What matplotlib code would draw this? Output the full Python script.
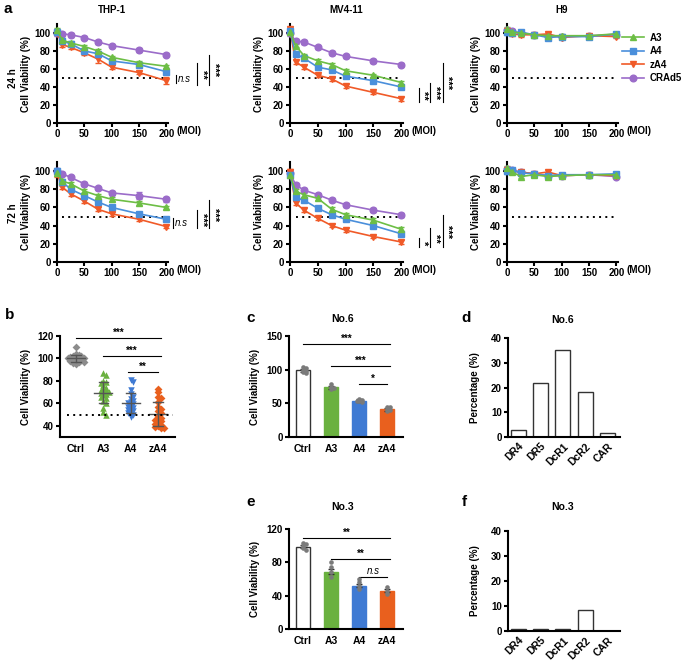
import matplotlib
matplotlib.use('Agg')
import matplotlib.pyplot as plt
import matplotlib.transforms as mtrans
from matplotlib.lines import Line2D
import numpy as np

plt.rcParams['font.family'] = ['Liberation Sans', 'DejaVu Sans']
plt.rcParams['font.weight'] = 'bold'
plt.rcParams['axes.labelweight'] = 'bold'
plt.rcParams['axes.linewidth'] = 1.5

# ---------------- data ----------------
moi = [0, 10, 25, 50, 75, 100, 150, 200]
series_names = ['A3', 'A4', 'zA4', 'CRAd5']

thp1_24_a3 = [103, 92, 89, 85, 80, 73, 67, 63]
thp1_24_a4 = [101, 91, 88, 80, 77, 69, 65, 57]
thp1_24_za4 = [100, 87, 84, 78, 71, 62, 56, 47]
thp1_24_crad5 = [100, 99, 98, 95, 90, 86, 81, 76]

mv4_24_a3 = [101, 86, 75, 69, 65, 58, 53, 45]
mv4_24_a4 = [102, 77, 72, 62, 59, 52, 47, 40]
mv4_24_za4 = [104, 68, 62, 53, 49, 41, 34, 27]
mv4_24_crad5 = [100, 91, 90, 84, 78, 74, 69, 65]

h9_24_a3 = [104, 101, 100, 98, 97, 97, 97, 99]
h9_24_a4 = [101, 100, 101, 98, 95, 96, 96, 99]
h9_24_za4 = [102, 99, 98, 98, 99, 95, 97, 96]
h9_24_crad5 = [103, 102, 100, 98, 97, 96, 97, 98]

thp1_72_a3 = [98, 89, 86, 78, 73, 69, 65, 60]
thp1_72_a4 = [100, 88, 80, 73, 66, 60, 53, 47]
thp1_72_za4 = [97, 82, 75, 67, 58, 53, 47, 39]
thp1_72_crad5 = [100, 97, 93, 86, 81, 76, 73, 69]

mv4_72_a3 = [96, 78, 74, 70, 58, 52, 46, 36]
mv4_72_a4 = [96, 71, 68, 59, 52, 47, 40, 31]
mv4_72_za4 = [99, 65, 57, 48, 40, 35, 28, 22]
mv4_72_crad5 = [98, 85, 79, 74, 68, 63, 57, 52]

h9_72_a3 = [103, 99, 94, 96, 94, 95, 96, 96]
h9_72_a4 = [100, 101, 98, 97, 95, 96, 96, 97]
h9_72_za4 = [101, 100, 99, 97, 99, 95, 96, 95]
h9_72_crad5 = [102, 101, 99, 97, 95, 95, 96, 94]

err_small = [3, 2, 2, 2, 2, 2, 2, 2]
thp1_24_za4_err = [2, 2, 2, 2, 4, 2, 2, 4]
thp1_72_crad5_err = [2, 2, 2, 2, 2, 2, 4, 3]

groups = ['Ctrl', 'A3', 'A4', 'zA4']
b_ctrl = [110, 104, 103, 102, 101, 101, 100, 100, 100, 99, 99, 98, 98, 97, 97, 96, 95, 102, 100, 99]
b_a3 = [87, 85, 80, 79, 78, 76, 74, 73, 72, 71, 70, 70, 69, 68, 67, 66, 65, 62, 60, 56, 52, 50]
b_a4 = [81, 79, 72, 68, 66, 64, 62, 61, 60, 59, 58, 57, 56, 55, 54, 53, 52, 51, 50, 48]
b_za4 = [73, 70, 66, 65, 61, 57, 55, 53, 51, 49, 47, 46, 45, 44, 43, 42, 41, 40, 39, 38, 38]

c_means = [99, 74, 54, 41]
c_sem = [2, 2, 2, 2]
c_points = [[95, 97, 100, 102, 104, 98], [72, 75, 78, 73], [52, 54, 57, 55, 53], [38, 42, 45, 44, 40]]

e_means = [99, 69, 52, 46]
e_sem = [2, 3, 2, 2]
e_points = [[95, 97, 100, 102, 103], [63, 68, 74, 80], [48, 52, 56, 60], [42, 46, 50]]

receptors = ['DR4', 'DR5', 'DcR1', 'DcR2', 'CAR']
d_pct = [3, 22, 35, 18, 1.5]
f_pct = [0.8, 1.0, 0.7, 8.3, 0.2]

# ---------------- style ----------------
C_GREEN = '#6DBE45'
C_BLUE = '#4A8FDB'
C_RED = '#F05A28'
C_PURPLE = '#9B6CC9'
B_GREEN = '#6AB13F'
B_BLUE = '#3F7AD3'
B_ORANGE = '#E9601E'
GREY = '#8C8C8C'

W, H = 698, 665
fig = plt.figure(figsize=(W / 100, H / 100), dpi=100)


def add_ax(x0, x1, ytop, ybot):
    return fig.add_axes([x0 / W, 1 - ybot / H, (x1 - x0) / W, (ybot - ytop) / H])


def style_ax(ax, fs=7):
    for s in ['top', 'right']:
        ax.spines[s].set_visible(False)
    ax.tick_params(direction='out', length=3, width=1.5, labelsize=fs, pad=1.5)
    for lab in ax.get_xticklabels() + ax.get_yticklabels():
        lab.set_fontweight('bold')


def curve_panel(ax, a3, a4, za4, crad5, za4_err=None, crad5_err=None):
    specs = [(crad5, C_PURPLE, 'o', 4.8, crad5_err),
             (za4, C_RED, 'v', 4.8, za4_err),
             (a4, C_BLUE, 's', 4.4, None),
             (a3, C_GREEN, '^', 4.8, None)]
    for vals, col, mk, ms, err in specs:
        e = err if err is not None else err_small
        ax.errorbar(moi, vals, yerr=e, color=col, marker=mk, ms=ms, lw=1.2,
                    elinewidth=1.0, capsize=2, clip_on=False, zorder=3)
    ax.hlines(50, 10, 195, colors='black', linestyles=(0, (1, 2.2)), lw=1.4)
    ax.set_xlim(0, 203)
    ax.set_ylim(0, 110)
    ax.set_xticks([0, 50, 100, 150, 200])
    ax.set_yticks([0, 20, 40, 60, 80, 100])
    ax.set_ylabel('Cell Viability (%)', fontsize=7)
    ax.yaxis.set_label_coords(-0.23, 0.5)
    style_ax(ax)
    ax.text(1.075, -0.035, '(MOI)', transform=ax.transAxes, ha='left', va='top',
            fontsize=7, fontweight='bold')


def vbracket(ax, xf, y1, y2, label, tx, italic=False):
    tr = mtrans.blended_transform_factory(ax.transAxes, ax.transData)
    ax.plot([xf, xf], [y1, y2], color='black', lw=0.8, transform=tr, clip_on=False)
    if italic:
        ax.text(tx, (y1 + y2) / 2, label, transform=tr, ha='left', va='center',
                fontsize=7, style='italic', fontweight='normal')
    else:
        ax.text(tx, (y1 + y2) / 2, label, transform=tr, ha='center', va='center',
                rotation=270, fontsize=8, fontweight='bold', linespacing=1.0)


# row 1 (24 h)
ax1 = add_ax(57, 168, 24, 123)
curve_panel(ax1, thp1_24_a3, thp1_24_a4, thp1_24_za4, thp1_24_crad5, za4_err=thp1_24_za4_err)
vbracket(ax1, 1.069, 44, 53, 'n.s', 1.085, italic=True)
vbracket(ax1, 1.26, 42, 67, '**', 1.305)
vbracket(ax1, 1.37, 42, 76, '***', 1.42)

ax2 = add_ax(290, 403, 24, 123)
curve_panel(ax2, mv4_24_a3, mv4_24_a4, mv4_24_za4, mv4_24_crad5)
vbracket(ax2, 1.14, 23, 39, '**', 1.18)
vbracket(ax2, 1.24, 23, 44, '***', 1.285)
vbracket(ax2, 1.35, 23, 67, '***', 1.395)

ax3 = add_ax(507, 618, 24, 123)
curve_panel(ax3, h9_24_a3, h9_24_a4, h9_24_za4, h9_24_crad5)
handles = [Line2D([], [], color=C_GREEN, marker='^', ms=4.8, lw=1.2),
           Line2D([], [], color=C_BLUE, marker='s', ms=4.4, lw=1.2),
           Line2D([], [], color=C_RED, marker='v', ms=4.8, lw=1.2),
           Line2D([], [], color=C_PURPLE, marker='o', ms=4.8, lw=1.2)]
leg = ax3.legend(handles, series_names, loc='upper left', bbox_to_anchor=(1.0, 0.95),
                 frameon=False, fontsize=7, handlelength=2.3, labelspacing=0.35,
                 borderaxespad=0, handletextpad=0.6)
for t in leg.get_texts():
    t.set_fontweight('bold')

# row 2 (72 h)
ax4 = add_ax(57, 168, 162, 262)
curve_panel(ax4, thp1_72_a3, thp1_72_a4, thp1_72_za4, thp1_72_crad5, crad5_err=thp1_72_crad5_err)
vbracket(ax4, 1.045, 37, 48, 'n.s', 1.062, italic=True)
vbracket(ax4, 1.26, 37, 57, '***', 1.305)
vbracket(ax4, 1.37, 37, 68, '***', 1.42)

ax5 = add_ax(290, 403, 162, 262)
curve_panel(ax5, mv4_72_a3, mv4_72_a4, mv4_72_za4, mv4_72_crad5)
vbracket(ax5, 1.14, 16, 26, '*', 1.18)
vbracket(ax5, 1.24, 16, 37, '**', 1.285)
vbracket(ax5, 1.35, 16, 52, '***', 1.395)

ax6 = add_ax(507, 618, 162, 262)
curve_panel(ax6, h9_72_a3, h9_72_a4, h9_72_za4, h9_72_crad5)

# titles / labels
for x, t in [(112, 'THP-1'), (346, 'MV4-11'), (562, 'H9')]:
    fig.text(x / W, 1 - 10 / H, t, ha='center', va='center', fontsize=7, fontweight='bold')
fig.text(13 / W, 1 - 78 / H, '24 h', rotation=90, ha='center', va='center', fontsize=7, fontweight='bold')
fig.text(13 / W, 1 - 213 / H, '72 h', rotation=90, ha='center', va='center', fontsize=7, fontweight='bold')
for x, y, t in [(3, 2, 'a'), (5, 308, 'b'), (246, 311, 'c'), (461, 311, 'd'), (246, 495, 'e'), (462, 495, 'f')]:
    fig.text(x / W, 1 - y / H, t, ha='left', va='top', fontsize=11, fontweight='bold')


def swarm(vals, step, tol, cap):
    vals = np.asarray(vals, dtype=float)
    order = np.argsort(-vals)
    offs = np.zeros(len(vals))
    placed = []
    cands = [0.0]
    j = 1
    while j * step <= cap + 1e-9:
        cands += [j * step, -j * step]
        j += 1
    for i in order:
        near = [o for (pv, o) in placed if abs(pv - vals[i]) < tol]
        best, best_d = 0.0, -1
        for c in cands:
            d = min([abs(c - o) for o in near], default=9)
            if d > step * 0.9:
                best = c
                break
            if d > best_d:
                best, best_d = c, d
        offs[i] = best
        placed.append((vals[i], best))
    return offs


def hsig(ax, x1, x2, y, label, dy, italic=False):
    ax.plot([x1, x2], [y, y], color='black', lw=0.8, clip_on=False)
    ax.text((x1 + x2) / 2, y + dy, label, ha='center', va='bottom', fontsize=7,
            style='italic' if italic else 'normal', fontweight='normal' if italic else 'bold')


# panel b
axb = add_ax(60, 175, 336, 437)
b_data = [b_ctrl, b_a3, b_a4, b_za4]
b_cols = [GREY, B_GREEN, B_BLUE, B_ORANGE]
b_marks = ['D', '^', 'v', 'D']
b_ms = [16, 22, 22, 16]
for i, (vals, col, mk, s) in enumerate(zip(b_data, b_cols, b_marks, b_ms)):
    off = swarm(vals, 0.1, 2.6, 0.3)
    axb.scatter(i + off, vals, s=s, marker=mk, color=col, linewidths=0, zorder=2, clip_on=False)
    m = np.mean(vals)
    sd = np.std(vals, ddof=1)
    axb.plot([i - 0.33, i + 0.33], [m, m], color='#555555', lw=1.0, zorder=3)
    axb.plot([i, i], [m - sd, m + sd], color='#555555', lw=1.0, zorder=3)
    axb.plot([i - 0.17, i + 0.17], [m - sd, m - sd], color='#555555', lw=1.0, zorder=3)
    axb.plot([i - 0.17, i + 0.17], [m + sd, m + sd], color='#555555', lw=1.0, zorder=3)
axb.hlines(50, -0.33, 3.55, colors='black', linestyles=(0, (1, 2.2)), lw=1.4, zorder=4)
axb.set_xlim(-0.58, 3.62)
axb.set_ylim(30, 120)
axb.set_yticks([40, 60, 80, 100, 120])
axb.set_xticks(range(4))
axb.set_xticklabels(groups)
axb.set_ylabel('Cell Viability (%)', fontsize=7)
axb.yaxis.set_label_coords(-0.25, 0.5)
style_ax(axb)
axb.tick_params(axis='x', length=0, pad=5, labelsize=7.5)
for lab in axb.get_xticklabels():
    lab.set_fontweight('bold')
hsig(axb, 0.0, 3.1, 118, '***', 0.3)
hsig(axb, 1.0, 3.1, 102, '***', 0.3)
hsig(axb, 1.9, 3.0, 88, '**', 0.3)


def bar_panel(ax, means, sem, points, ylim, yticks):
    cols = ['white', B_GREEN, B_BLUE, B_ORANGE]
    edges = ['#333333', B_GREEN, B_BLUE, B_ORANGE]
    ax.bar(range(4), means, width=0.5, color=cols, edgecolor=edges, lw=1.0, zorder=1)
    ax.errorbar(range(4), means, yerr=sem, fmt='none', ecolor='#333333', elinewidth=1.0,
                capsize=2.5, zorder=3)
    for i, pts in enumerate(points):
        off = swarm(pts, 0.09, 3.0, 0.18)
        ax.scatter(i + off, pts, s=11, color='#7a7a7a', linewidths=0, zorder=4)
    ax.set_xlim(-0.5, 3.57)
    ax.set_ylim(*ylim)
    ax.set_yticks(yticks)
    ax.set_xticks(range(4))
    ax.set_xticklabels(groups)
    ax.set_ylabel('Cell Viability (%)', fontsize=7)
    ax.yaxis.set_label_coords(-0.25, 0.5)
    style_ax(ax)
    ax.tick_params(axis='x', length=0, pad=5, labelsize=7.5)
    for lab in ax.get_xticklabels():
        lab.set_fontweight('bold')


axc = add_ax(289, 403, 336, 437)
bar_panel(axc, c_means, c_sem, c_points, (0, 150), [0, 50, 100, 150])
hsig(axc, 0.0, 3.1, 138, '***', 0.5)
hsig(axc, 1.0, 3.1, 105, '***', 0.5)
hsig(axc, 2.0, 3.0, 79, '*', 0.5)
fig.text(343 / W, 1 - 319 / H, 'No.6', ha='center', va='center', fontsize=7.5, fontweight='bold')

axe = add_ax(289, 403, 529, 629)
bar_panel(axe, e_means, e_sem, e_points, (0, 120), [0, 40, 80, 120])
hsig(axe, 0.0, 3.1, 109, '**', 0.4)
hsig(axe, 1.0, 3.1, 84, '**', 0.4)
hsig(axe, 2.0, 3.0, 63, 'n.s', 0.4, italic=True)
fig.text(343 / W, 1 - 507 / H, 'No.3', ha='center', va='center', fontsize=7.5, fontweight='bold')


def pct_panel(ax, vals):
    ax.bar(range(5), vals, width=0.67, color='white', edgecolor='#333333', lw=1.0)
    ax.set_xlim(-0.45, 4.55)
    ax.set_ylim(0, 40)
    ax.set_yticks([0, 10, 20, 30, 40])
    ax.set_xticks(range(5))
    ax.set_xticklabels(receptors, rotation=45, ha='right', rotation_mode='anchor')
    ax.set_ylabel('Percentage (%)', fontsize=7)
    ax.yaxis.set_label_coords(-0.25, 0.5)
    style_ax(ax)
    ax.tick_params(axis='x', length=0, pad=3, labelsize=7.5)
    for lab in ax.get_xticklabels():
        lab.set_fontweight('bold')


axd = add_ax(508, 620, 338, 437)
pct_panel(axd, d_pct)
fig.text(563 / W, 1 - 320 / H, 'No.6', ha='center', va='center', fontsize=7.5, fontweight='bold')

axf = add_ax(508, 620, 531, 631)
pct_panel(axf, f_pct)
fig.text(563 / W, 1 - 507 / H, 'No.3', ha='center', va='center', fontsize=7.5, fontweight='bold')

fig.savefig('out.png', dpi=100)
